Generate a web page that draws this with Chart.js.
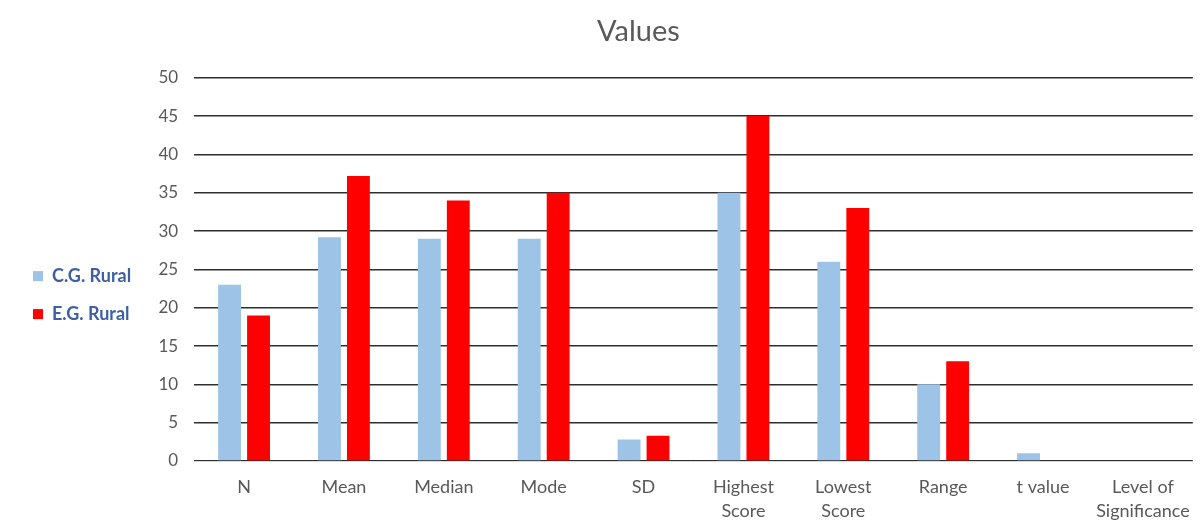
<!DOCTYPE html>
<html>
<head>
<meta charset="utf-8">
<script src="https://cdn.jsdelivr.net/npm/chart.js@4.4.1/dist/chart.umd.min.js"></script>
<style>
html,body{margin:0;padding:0;background:#fff;}
#wrap{width:1204px;height:522px;}
</style>
</head>
<body>
<div id="wrap"><canvas id="c" width="1204" height="522"></canvas></div>
<script>
const categories = ['N','Mean','Median','Mode','SD',['Highest','Score'],['Lowest','Score'],'Range','t value',['Level of','Significance']];
const cgRural = [23, 29.2, 29, 29, 2.8, 35, 26, 10, 1, 0];
const egRural = [19, 37.2, 34, 35, 3.3, 45, 33, 13, 0, 0];
const seriesNames = ['C.G. Rural','E.G. Rural'];
const yTicks = [0,5,10,15,20,25,30,35,40,45,50];

const FONT = 'Lato, "Open Sans", sans-serif';

const titleShift = {
  id: 'titleShift',
  afterLayout(chart) {
    const t = chart.titleBlock;
    if (t) { t.left += 66; }
  }
};

new Chart(document.getElementById('c'), {
  type: 'bar',
  data: {
    labels: categories,
    datasets: [
      {label: seriesNames[0], data: cgRural, backgroundColor: '#9DC3E6', categoryPercentage: 0.58, barPercentage: 0.79},
      {label: seriesNames[1], data: egRural, backgroundColor: '#FF0000', categoryPercentage: 0.58, barPercentage: 0.79}
    ]
  },
  plugins: [titleShift],
  options: {
    responsive: false,
    animation: false,
    layout: {padding: {left: 13, right: 6, top: 0, bottom: 0}},
    plugins: {
      title: {display: true, text: 'Values', color: '#595959', font: {family: FONT, size: 29, weight: 'normal'}, padding: {top: 14, bottom: 29}},
      legend: {
        position: 'left',
        title: {display: true, text: '', font: {size: 1}, padding: {top: 67, bottom: 0}},
        labels: {color: '#3D5FA5', boxWidth: 10, boxHeight: 10, padding: 20, font: {family: FONT, size: 18, weight: 'bold'}}
      },
      tooltip: {enabled: false}
    },
    scales: {
      x: {
        afterFit: s => { s.height = 61; },
        grid: {display: false, drawTicks: false},
        border: {color: '#D9D9D9', width: 1},
        ticks: {color: '#595959', font: {family: FONT, size: 18, lineHeight: 1.33}, padding: 14, maxRotation: 0, autoSkip: false}
      },
      y: {
        min: 0, max: 50,
        afterBuildTicks: s => { s.ticks = yTicks.map(v => ({value: v})); },
        afterFit: s => { s.width = 53; },
        grid: {color: '#2E2E2E', lineWidth: 1.4, drawTicks: false},
        border: {display: false},
        ticks: {color: '#595959', font: {family: FONT, size: 17}, padding: 16}
      }
    }
  }
});
</script>
</body>
</html>
